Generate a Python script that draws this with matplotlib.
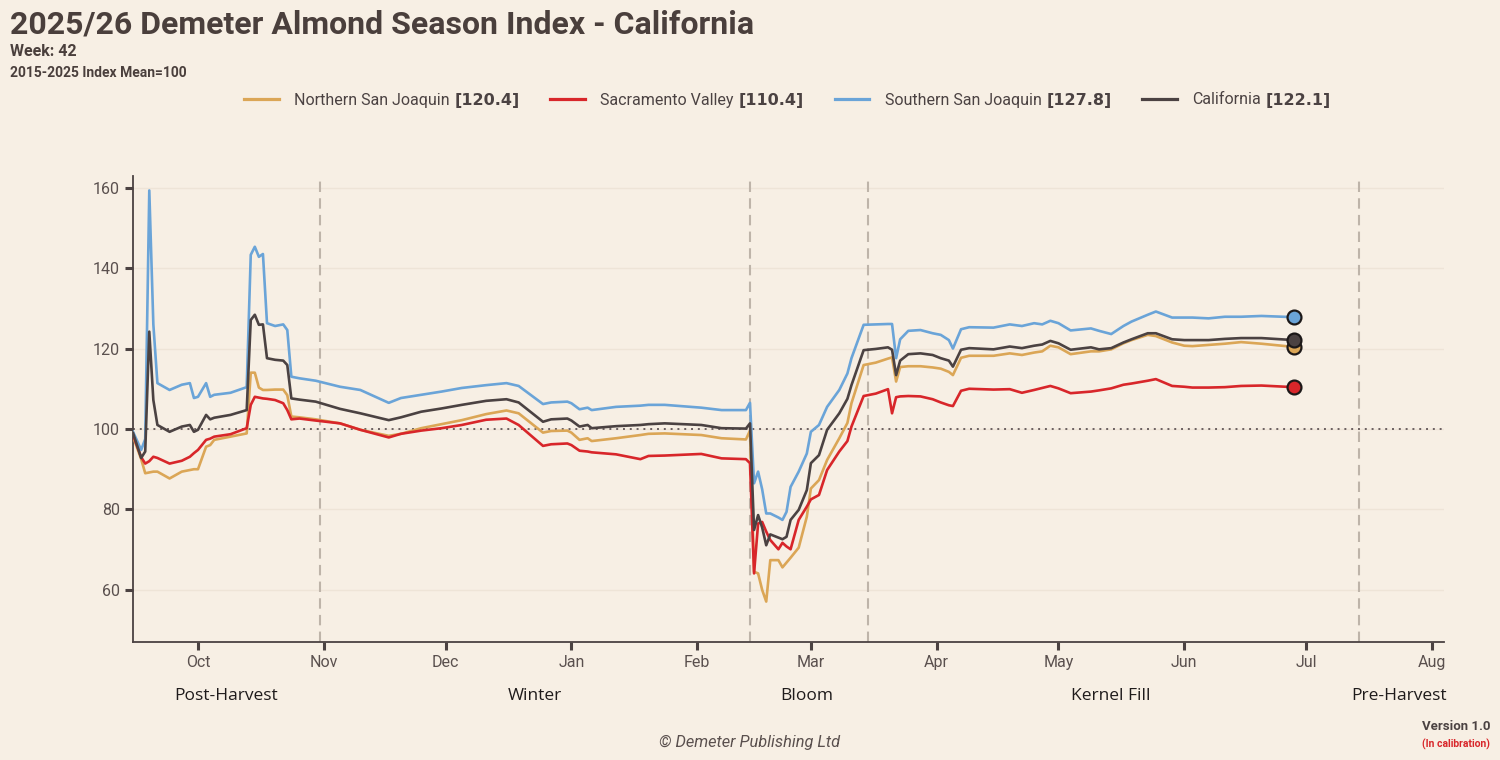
import numpy as np
import matplotlib
matplotlib.use("Agg")
import matplotlib.pyplot as plt
import matplotlib.dates as mdates
from matplotlib.offsetbox import AnchoredOffsetbox, HPacker, TextArea, DrawingArea
from matplotlib.lines import Line2D
from matplotlib.transforms import blended_transform_factory

plt.rcParams['font.family'] = ['Roboto', 'DejaVu Sans']

SEASON_START = np.datetime64("2025-10-01")

# days since 1 Oct 2025
days = [-16, -14, -13, -12, -11, -10, -7, -4, -2, -1, 0, 2, 3, 4, 8, 12,
        13, 14, 15, 16, 17, 19, 21, 22, 23, 25, 29, 35, 40, 47, 50, 55,
        60, 65, 71, 76, 79, 85, 87, 91, 92, 94, 96, 97, 103, 109, 111, 115,
        124, 129, 135, 136, 137, 138, 139, 140, 141, 143, 144, 145, 146, 148,
        150, 151, 153, 155, 158, 160, 161, 164, 167, 170, 171, 172, 173, 175,
        178, 181, 183, 185, 186, 188, 190, 196, 200, 203, 206, 208, 210, 212,
        215, 220, 222, 225, 228, 230, 234, 236, 240, 243, 245, 249, 253, 257,
        262, 270]

nsj = [98.1, 92.5, 89.0, 89.2, 89.4, 89.4, 87.7, 89.4, 89.8, 90.0, 90.0, 95.6, 96.0, 97.3, 98.1, 98.9,
       114.0, 114.0, 110.3, 109.7, 109.7, 109.8, 109.8, 108.4, 103.1, 102.9, 102.4, 101.4, 99.8, 98.3, 98.8, 100.2,
       101.2, 102.2, 103.7, 104.6, 103.9, 99.1, 99.5, 99.6, 99.1, 97.3, 97.7, 97.0, 97.7, 98.5, 98.8, 98.9,
       98.5, 97.7, 97.4, 99.6, 64.5, 64.1, 60.0, 57.1, 67.4, 67.4, 65.6, 66.8, 68.0, 70.5,
       78.2, 85.2, 87.3, 92.3, 97.7, 101.5, 106.4, 115.9, 116.5, 117.5, 117.8, 111.8, 115.4, 115.6,
       115.6, 115.3, 115.0, 114.2, 113.4, 117.7, 118.2, 118.2, 118.8, 118.4, 119.0, 119.3, 120.7, 120.3,
       118.6, 119.3, 119.3, 119.8, 121.3, 122.1, 123.4, 123.1, 121.5, 120.7, 120.6, 120.9, 121.2, 121.6,
       121.2, 120.4]

sac = [98.5, 93.0, 91.4, 92.0, 93.1, 92.8, 91.4, 92.1, 93.1, 94.0, 94.8, 97.3, 97.6, 98.1, 98.7, 100.2,
       106.0, 108.0, 107.8, 107.6, 107.5, 107.2, 106.4, 104.7, 102.4, 102.6, 102.1, 101.4, 99.8, 97.9, 98.8, 99.6,
       100.2, 101.0, 102.3, 102.6, 101.0, 95.8, 96.2, 96.4, 96.0, 94.6, 94.4, 94.2, 93.7, 92.5, 93.3, 93.4,
       93.8, 92.7, 92.5, 91.5, 64.1, 76.5, 76.9, 74.5, 72.4, 70.1, 71.7, 70.8, 70.1, 77.4,
       80.7, 82.5, 83.6, 89.8, 94.4, 97.0, 100.6, 108.2, 108.8, 109.9, 103.9, 107.9, 108.1, 108.2,
       108.1, 107.4, 106.6, 105.9, 105.7, 109.5, 110.0, 109.8, 109.9, 109.0, 109.7, 110.2, 110.7, 110.1,
       108.9, 109.3, 109.6, 110.1, 111.0, 111.3, 112.0, 112.4, 110.7, 110.5, 110.3, 110.3, 110.4, 110.7,
       110.8, 110.4]

ssj = [99.3, 94.8, 97.5, 159.3, 126.0, 111.4, 109.7, 111.0, 111.4, 107.7, 108.0, 111.4, 108.0, 108.5, 109.0, 110.4,
       143.3, 145.3, 142.8, 143.5, 126.3, 125.6, 126.0, 124.6, 113.0, 112.6, 112.0, 110.5, 109.7, 106.5, 107.7, 108.5,
       109.3, 110.2, 110.9, 111.4, 110.7, 106.2, 106.6, 106.8, 106.4, 104.9, 105.3, 104.7, 105.5, 105.8, 106.0, 106.0,
       105.3, 104.7, 104.7, 106.5, 86.5, 89.4, 85.0, 79.0, 79.0, 78.0, 77.4, 79.4, 85.6, 89.4,
       93.9, 99.3, 101.0, 105.5, 109.7, 113.8, 117.6, 125.9, 126.0, 126.1, 126.1, 117.6, 122.3, 124.4,
       124.6, 123.8, 123.4, 122.1, 120.0, 124.8, 125.3, 125.2, 126.0, 125.6, 126.3, 126.0, 126.9, 126.3,
       124.5, 125.0, 124.4, 123.6, 125.6, 126.7, 128.4, 129.2, 127.7, 127.7, 127.7, 127.5, 127.9, 127.9,
       128.1, 127.8]

cal = [99.0, 92.8, 94.4, 124.2, 107.2, 101.0, 99.3, 100.6, 101.0, 99.3, 99.8, 103.5, 102.4, 102.8, 103.5, 104.7,
       127.1, 128.4, 125.9, 126.0, 117.6, 117.2, 117.0, 115.9, 107.6, 107.3, 106.8, 105.0, 103.9, 102.2, 102.9, 104.3,
       105.1, 106.0, 107.0, 107.4, 106.6, 101.8, 102.4, 102.6, 102.1, 100.6, 101.0, 100.2, 100.7, 101.0, 101.2, 101.4,
       101.0, 100.2, 100.1, 101.4, 74.9, 78.6, 75.5, 71.1, 73.8, 73.0, 72.6, 73.2, 77.4, 79.9,
       84.8, 91.5, 93.5, 99.8, 103.9, 107.5, 110.9, 119.6, 119.9, 120.3, 119.7, 113.4, 117.0, 118.6,
       118.8, 118.4, 117.6, 117.0, 115.5, 119.7, 120.1, 119.8, 120.5, 120.1, 120.7, 121.0, 121.9, 121.3,
       119.7, 120.3, 119.8, 120.1, 121.5, 122.3, 123.8, 123.8, 122.3, 122.1, 122.1, 122.1, 122.4, 122.6,
       122.6, 122.1]

regions = ["Northern San Joaquin", "Sacramento Valley", "Southern San Joaquin", "California"]
latest = [120.4, 110.4, 127.8, 122.1]
series = [nsj, sac, ssj, cal]
colors = ["#dba656", "#d8262a", "#6aa4d8", "#4b4242"]

phase_names = ["Post-Harvest", "Winter", "Bloom", "Kernel Fill", "Pre-Harvest"]
phase_edges = ["2025-09-15", "2025-10-31", "2026-02-14", "2026-03-15", "2026-07-14", "2026-08-04"]

BG = "#f7efe4"
INK = "#4b4242"

dates = SEASON_START + np.array(days, dtype="timedelta64[D]")
edges = np.array(phase_edges, dtype="datetime64[D]")

fig = plt.figure(figsize=(15, 7.6), dpi=100, facecolor=BG)
ax = fig.add_axes([0.0887, 0.155, 0.874, 0.614])
ax.set_facecolor(BG)

for vals, col in zip(series, colors):
    ax.plot(dates, vals, color=col, lw=1.9, zorder=3, solid_joinstyle="round")
for vals, col in zip(series, colors):
    ax.plot(dates[-1], vals[-1], "o", ms=10, mfc=col, mec="#1c1818", mew=1.6, zorder=5, clip_on=False)

ax.axhline(100, color="#6b6060", lw=1.4, ls=(0, (1, 2.5)), zorder=2)
for e in edges[1:-1]:
    ax.axvline(e, color="#beb4a9", lw=1.5, ls=(0, (5, 3)), zorder=1)

ax.set_xlim(edges[0], edges[-1])
ax.set_ylim(47, 163)
ax.set_yticks([60, 80, 100, 120, 140, 160])
ax.yaxis.grid(True, color="#eee4d7", lw=1)
ax.set_axisbelow(True)

ax.xaxis.set_major_locator(mdates.MonthLocator())
ax.xaxis.set_major_formatter(mdates.DateFormatter("%b"))

for s in ["top", "right"]:
    ax.spines[s].set_visible(False)
for s in ["left", "bottom"]:
    ax.spines[s].set_color(INK)
    ax.spines[s].set_linewidth(1.3)
ax.tick_params(axis="both", colors=INK, labelcolor="#5a504e", labelsize=11.5,
               length=5.5, width=2.2, pad=4)

trans = blended_transform_factory(ax.transData, ax.transAxes)
for name, a, b in zip(phase_names, edges[:-1], edges[1:]):
    mid = a + (b - a) / 2
    ax.text(mid, -0.116, name, transform=trans, ha="center", va="center",
            fontsize=12.5, family=["Open Sans", "DejaVu Sans"], color="#1f1b1b")

# legend with bold latest value
items = []
for name, val, col in zip(regions, latest, colors):
    da = DrawingArea(25, 8, 0, 0)
    da.add_artist(Line2D([0, 25], [4, 4], color=col, lw=2.3))
    txt = HPacker(children=[TextArea(name, textprops=dict(fontsize=11.5, color=INK)),
                            TextArea(f"[{val}]", textprops=dict(fontsize=11.5, color=INK, weight="bold",
                                                                family="DejaVu Sans"))],
                  sep=3.5, align="baseline")
    items.append(HPacker(children=[da, txt], sep=11, align="baseline"))
leg = AnchoredOffsetbox(loc="center", child=HPacker(children=items, sep=22, align="baseline"),
                        frameon=False, bbox_to_anchor=(0.525, 1 - 100 / 760),
                        bbox_transform=fig.transFigure, pad=0, borderpad=0)
fig.add_artist(leg)

fig.text(10 / 1500, 1 - 34 / 760, "2025/26 Demeter Almond Season Index - California",
         fontsize=23, weight="bold", color="#4a3f3c", va="baseline")
fig.text(10 / 1500, 1 - 56 / 760, "Week: 42", fontsize=11.5, weight="bold", color="#4a3f3c", va="baseline")
fig.text(10 / 1500, 1 - 77 / 760, "2015-2025 Index Mean=100", fontsize=10, weight="bold",
         color="#4a3f3c", va="baseline")

fig.text(0.5, 1 - 742 / 760, "\u00a9 Demeter Publishing Ltd", fontsize=11.8, style="italic",
         color="#5a504e", ha="center", va="center")
fig.text(1490 / 1500, 1 - 727 / 760, "Version 1.0", fontsize=9.5, weight="bold", color=INK,
         ha="right", va="center")
fig.text(1490 / 1500, 1 - 744 / 760, "(In calibration)", fontsize=7.5, weight="bold",
         color="#d8262a", ha="right", va="center")

fig.savefig("out.png", dpi=100, facecolor=BG)
